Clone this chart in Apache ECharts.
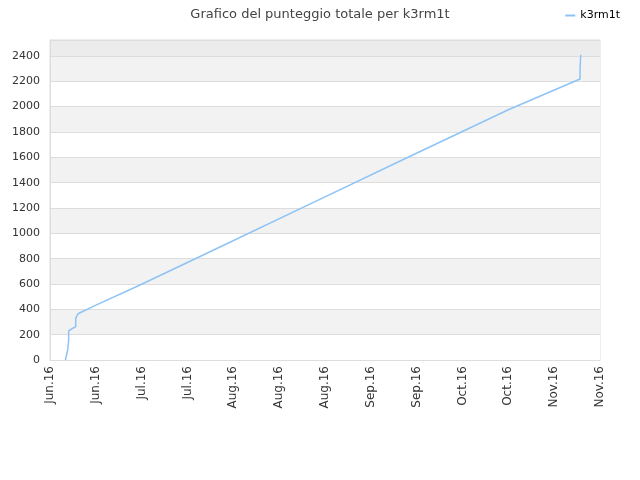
<!DOCTYPE html>
<html>
<head>
<meta charset="utf-8">
<script src="https://cdn.jsdelivr.net/npm/echarts@6/dist/echarts.min.js"></script>
<style>
  html, body { margin: 0; padding: 0; background: #fff; }
  #chart { width: 640px; height: 480px; }
</style>
</head>
<body>
<div id="chart"></div>
<script>
// x = days since the first tick (Jun 8), y = total score
const tickLabels = ['Jun.16', 'Jun.16', 'Jul.16', 'Jul.16', 'Aug.16', 'Aug.16', 'Aug.16',
                    'Sep.16', 'Sep.16', 'Oct.16', 'Oct.16', 'Nov.16', 'Nov.16'];
const days = [4.7, 5.4, 5.7, 5.7, 6.1, 7.85, 7.85, 8.5, 9.2, 13.7, 27.5, 50, 80, 110, 140, 161.9, 161.9, 162.1, 162.1];
const score = [0, 79, 158, 231, 242, 263, 329, 363, 373, 429, 592, 868, 1238, 1608, 1975, 2218, 2300, 2400, 2410];

const tickStep = 14;
const points = days.map((d, i) => [d, score[i]]);

const chart = echarts.init(document.getElementById('chart'));

let option = {
  animation: false,
  textStyle: { fontFamily: 'DejaVu Sans' },
  title: {
    text: 'Grafico del punteggio totale per k3rm1t',
    left: 'center',
    top: 3,
    textStyle: { fontSize: 13, fontWeight: 'normal', color: '#444' }
  },
  legend: {
    right: 15,
    top: 5,
    itemWidth: 10,
    itemHeight: 2,
    itemGap: 10,
    icon: 'rect',
    textStyle: { fontSize: 11, color: '#000' },
    data: ['k3rm1t']
  },
  grid: {
    left: 50, right: 40, top: 40, bottom: 120,
    show: true, borderColor: '#ddd', borderWidth: 1, backgroundColor: 'transparent'
  },
  xAxis: {
    type: 'value',
    min: 0,
    max: tickStep * (tickLabels.length - 1),
    interval: tickStep,
    axisLine: { show: true, lineStyle: { color: '#ddd' } },
    axisTick: { show: false },
    splitLine: { show: false },
    axisLabel: {
      rotate: 90,
      fontSize: 12,
      color: '#333',
      margin: 6,
      formatter: v => tickLabels[Math.round(v / tickStep)] || ''
    }
  },
  yAxis: {
    type: 'value',
    min: 0,
    max: 2526,
    interval: 200,
    axisLine: { show: true, lineStyle: { color: '#ddd' } },
    axisTick: { show: false },
    axisLabel: { fontSize: 11, color: '#333', margin: 10, showMaxLabel: false, formatter: v => String(v) },
    splitLine: { show: true, lineStyle: { color: '#ddd' } },
    splitArea: {
      show: true,
      areaStyle: {
        color: ['#ffffff', '#f2f2f2', '#ffffff', '#f2f2f2', '#ffffff', '#f2f2f2', '#ffffff',
                '#f2f2f2', '#ffffff', '#f2f2f2', '#ffffff', '#f2f2f2', '#ececec']
      }
    }
  },
  series: [{
    name: 'k3rm1t',
    type: 'line',
    data: points,
    showSymbol: false,
    lineStyle: { color: '#8ec3f5', width: 1.5 },
    itemStyle: { color: '#8ec3f5' }
  }]
};

chart.setOption(option);
</script>
</body>
</html>
